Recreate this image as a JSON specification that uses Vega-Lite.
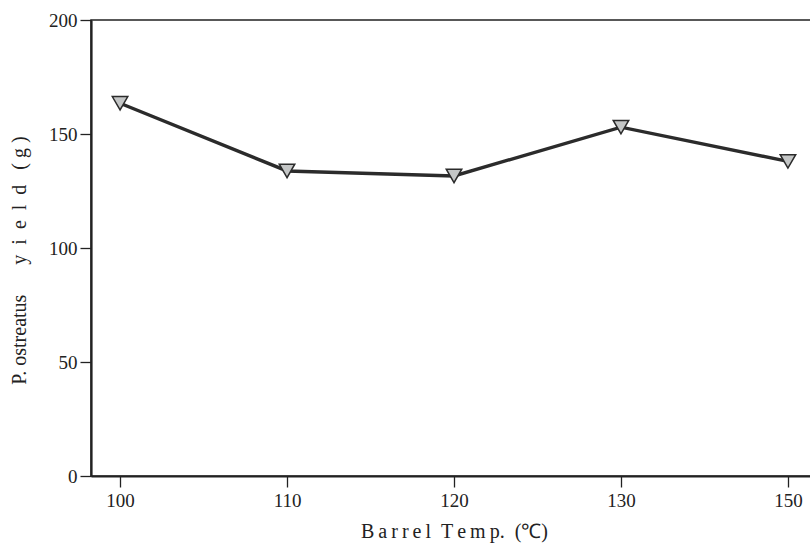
{
  "$schema": "https://vega.github.io/schema/vega-lite/v6.json",
  "width": 726,
  "height": 456,
  "autosize": {"type": "none"},
  "padding": {"left": 91, "top": 20, "right": 0, "bottom": 74},
  "background": "white",
  "config": {
    "view": {"stroke": "#222", "strokeWidth": 1.5},
    "font": "Liberation Serif",
    "axis": {
      "domainColor": "#222",
      "domainWidth": 2.2,
      "tickColor": "#222",
      "tickWidth": 1.3,
      "tickSize": 11,
      "labelFont": "Liberation Serif",
      "labelFontSize": 19,
      "labelColor": "#222",
      "titleFont": "Liberation Serif",
      "titleFontSize": 20,
      "titleFontWeight": "normal",
      "titleColor": "#222",
      "grid": false
    }
  },
  "data": {
    "values": [
      {"temp": "100", "yield": 163.5},
      {"temp": "110", "yield": 133.8},
      {"temp": "120", "yield": 131.6},
      {"temp": "130", "yield": 153.0},
      {"temp": "150", "yield": 138.0}
    ]
  },
  "encoding": {
    "x": {
      "field": "temp",
      "type": "ordinal",
      "sort": null,
      "scale": {"type": "point", "padding": 0.174},
      "axis": {
        "title": "B\u2009a\u2009r\u2009r\u2009e\u2009l\u00a0\u00a0T\u2009e\u2009m\u2009p.\u00a0\u00a0(℃)",
        "labelAngle": 0,
        "labelPadding": 4,
        "titlePadding": 11,
        "titleX": 363
      }
    },
    "y": {
      "field": "yield",
      "type": "quantitative",
      "scale": {"domain": [0, 200], "nice": false, "zero": true},
      "axis": {
        "title": "P.\u00a0ostreatus\u00a0\u00a0\u00a0\u00a0\u00a0\u00a0y\u00a0\u00a0i\u00a0\u00a0e\u00a0\u00a0l\u00a0\u00a0d\u00a0\u00a0\u00a0(\u00a0g\u00a0)",
        "titleY": 240,
        "values": [0, 50, 100, 150, 200],
        "labelPadding": 3,
        "titlePadding": 19
      }
    }
  },
  "layer": [
    {
      "mark": {"type": "line", "color": "#2b2b2b", "strokeWidth": 3.4}
    },
    {
      "mark": {
        "type": "point",
        "shape": "triangle-down",
        "size": 240,
        "filled": true,
        "fill": "#c4c6c6",
        "stroke": "#2b2b2b",
        "strokeWidth": 1.5,
        "opacity": 1
      }
    }
  ]
}
